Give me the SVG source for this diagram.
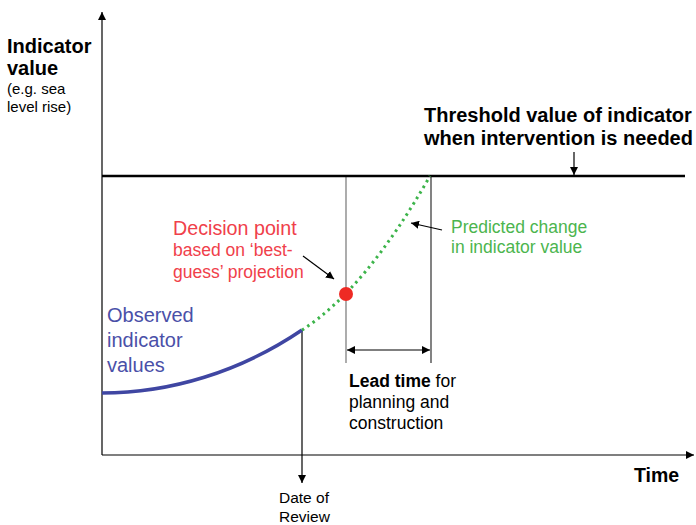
<svg xmlns="http://www.w3.org/2000/svg" width="696" height="525" viewBox="0 0 696 525">
<style>
text{font-family:"Liberation Sans",Arial,sans-serif;}
.b{font-weight:bold;fill:#000;}
.k{fill:#000;}
.ln{stroke:#000;stroke-width:1.2;fill:none;}
</style>
<defs>
<marker id="ah" viewBox="0 0 10 10" refX="10" refY="5" markerWidth="8" markerHeight="8" markerUnits="userSpaceOnUse" orient="auto-start-reverse">
<path d="M0,0 L10,5 L0,10 z" fill="#000"/>
</marker>
</defs>
<rect width="696" height="525" fill="#fff"/>
<g id="connectors">
<line id="yaxis" x1="102" y1="455" x2="102" y2="12" class="ln" stroke-width="1.5" marker-end="url(#ah)"/>
<line id="xaxis" x1="102" y1="455" x2="694" y2="455" class="ln" stroke-width="1.5" marker-end="url(#ah)"/>
<line x1="346" y1="176" x2="346" y2="363" stroke="#808080" stroke-width="1.3"/>
<line x1="431" y1="176" x2="431" y2="363" stroke="#404040" stroke-width="1.3"/>
<line x1="347" y1="350" x2="430" y2="350" class="ln" marker-start="url(#ah)" marker-end="url(#ah)"/>
<line x1="302" y1="330" x2="302" y2="483" class="ln" marker-end="url(#ah)"/>
<line x1="574" y1="152" x2="574" y2="175" class="ln" marker-end="url(#ah)"/>
<line x1="303" y1="256" x2="334" y2="279" class="ln" marker-end="url(#ah)"/>
<line x1="442" y1="230" x2="411" y2="223" class="ln" marker-end="url(#ah)"/>
</g>
<g id="threshold">
<line x1="102" y1="176" x2="685" y2="176" stroke="#000" stroke-width="2.5"/>
<text class="b" font-size="20" x="424" y="122">Threshold value of indicator</text>
<text class="b" font-size="20" x="424" y="145">when intervention is needed</text>
</g>
<g id="observed">
<path d="M102,393 C170,393 240,372 302,330" fill="none" stroke="#3f46a2" stroke-width="3.5"/>
<text font-size="20" fill="#4a50a8" x="107" y="322">Observed</text>
<text font-size="20" fill="#4a50a8" x="107" y="347">indicator</text>
<text font-size="20" fill="#4a50a8" x="107" y="372">values</text>
</g>
<g id="predicted">
<path d="M302,330 Q365,290 430,176" fill="none" stroke="#3cb44a" stroke-width="3" stroke-dasharray="2.5 4"/>
<text font-size="17.5" fill="#4cb54e" x="451" y="233">Predicted change</text>
<text font-size="17.5" fill="#4cb54e" x="451" y="253">in indicator value</text>
</g>
<g id="decision">
<circle cx="346" cy="294" r="7" fill="#ee2a24"/>
<text font-size="19.7" fill="#f0404a" x="173" y="235">Decision point</text>
<text font-size="17.5" fill="#f0404a" x="173" y="256">based on ‘best-</text>
<text font-size="17.5" fill="#f0404a" x="173" y="278">guess’ projection</text>
</g>
<g id="yaxis-label">
<text class="b" font-size="20" x="7" y="53">Indicator</text>
<text class="b" font-size="20" x="7" y="75">value</text>
<text class="k" font-size="15" x="7" y="94">(e.g. sea</text>
<text class="k" font-size="15" x="7" y="112">level rise)</text>
</g>
<g id="time-label">
<text class="b" font-size="19.5" x="634" y="482">Time</text>
</g>
<g id="review">
<text class="k" font-size="15.5" x="279" y="503">Date of</text>
<text class="k" font-size="15.5" x="279" y="522">Review</text>
</g>
<g id="leadtime">
<text class="k" font-size="17.5" x="349" y="387"><tspan font-weight="bold">Lead time</tspan> for</text>
<text class="k" font-size="17.5" x="349" y="408">planning and</text>
<text class="k" font-size="17.5" x="349" y="429">construction</text>
</g>
</svg>
